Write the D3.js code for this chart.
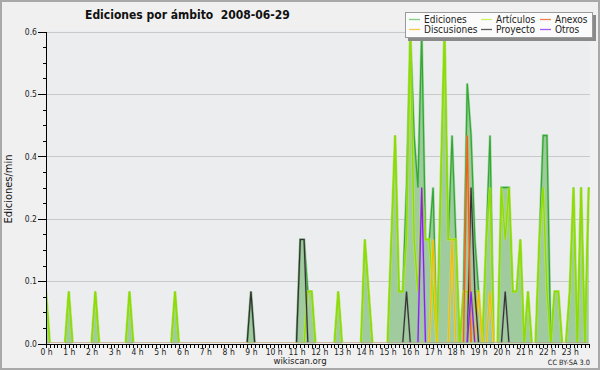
<!DOCTYPE html>
<html><head><meta charset="utf-8">
<script src="https://cdn.jsdelivr.net/npm/d3@7"></script>
<style>body{margin:0;background:#fff}svg{display:block}</style>
</head><body>
<script>
// 10-minute bins, 6 per hour, 144 bins (edits per minute)
const hourLabels = ["0 h","1 h","2 h","3 h","4 h","5 h","6 h","7 h","8 h","9 h","10 h","11 h",
                    "12 h","13 h","14 h","15 h","16 h","17 h","18 h","19 h","20 h","21 h","22 h","23 h"];
const yTickValues = [0, 0.12, 0.24, 0.36, 0.48, 0.6];
const yTickLabels = ["0.0", "0.1", "0.2", "0.4", "0.5", "0.6"];
const legendNames = ["Ediciones", "Discusiones", "Artículos", "Proyecto", "Anexos", "Otros"];

const ediciones = [
 .1,0,0,0,0,0,  .1,0,0,0,0,0,  0,.1,0,0,0,0,  0,0,0,0,.1,0,
 0,0,0,0,0,0,   0,0,0,0,.1,0,  0,0,0,0,0,0,   0,0,0,0,0,0,
 0,0,0,0,0,0,   .1,0,0,0,0,0,  0,0,0,0,0,0,   0,.2,.2,.1,.1,0,
 0,0,0,0,0,.1,  0,0,0,0,0,0,   .2,.1,0,0,0,0, 0,.2,.4,.1,.1,.3,
 .6,.4,.3,.6,.2,.2, .3,0,.3,.6,.2,.4, .2,0,.1,.5,.4,.2, .1,0,.2,.4,0,0,
 .3,.3,.3,.1,.1,.2, 0,.1,0,0,.2,.4,  .4,0,.1,.1,0,0,   .1,.3,0,.3,0,.3
];
const articulos = [
 .1,0,0,0,0,0,  .1,0,0,0,0,0,  0,.1,0,0,0,0,  0,0,0,0,.1,0,
 0,0,0,0,0,0,   0,0,0,0,.1,0,  0,0,0,0,0,0,   0,0,0,0,0,0,
 0,0,0,0,0,0,   0,0,0,0,0,0,   0,0,0,0,0,0,   0,0,0,.1,.1,0,
 0,0,0,0,0,.1,  0,0,0,0,0,0,   .2,.1,0,0,0,0, 0,.2,.4,.1,.1,.2,
 .6,.2,.1,.3,.2,.2, .1,0,.3,.6,.2,.2, .2,0,.1,.1,0,.1, .1,0,.2,.3,0,0,
 .3,.2,.3,.1,.1,.2, 0,.1,0,0,.2,.3,  .1,0,.1,.1,0,0,   .1,.3,0,.3,0,.3
];
const discusiones = [
 0,0,0,0,0,0, 0,0,0,0,0,0, 0,0,0,0,0,0, 0,0,0,0,0,0,
 0,0,0,0,0,0, 0,0,0,0,0,0, 0,0,0,0,0,0, 0,0,0,0,0,0,
 0,0,0,0,0,0, 0,0,0,0,0,0, 0,0,0,0,0,0, 0,0,0,0,0,0,
 0,0,0,0,0,0, 0,0,0,0,0,0, 0,0,0,0,0,0, 0,0,0,0,0,0,
 0,0,0,0,0,0, .2,0,0,0,0,.2, 0,0,0,0,0,0, .1,0,0,.1,0,0,
 0,0,0,0,0,0, 0,0,0,0,0,0, 0,0,0,0,0,0, 0,0,0,0,0,0
];
const proyecto = [
 0,0,0,0,0,0, 0,0,0,0,0,0, 0,0,0,0,0,0, 0,0,0,0,0,0,
 0,0,0,0,0,0, 0,0,0,0,0,0, 0,0,0,0,0,0, 0,0,0,0,0,0,
 0,0,0,0,0,0, .1,0,0,0,0,0, 0,0,0,0,0,0, 0,.2,.2,0,0,0,
 0,0,0,0,0,0, 0,0,0,0,0,0, 0,0,0,0,0,0, 0,0,0,0,0,.1,
 0,0,0,0,0,0, 0,0,0,0,0,0, 0,0,0,0,.3,.1, 0,0,0,0,0,0,
 0,.1,0,0,0,0, 0,0,0,0,0,0, 0,0,0,0,0,0, 0,0,0,0,0,0
];
const anexos = [
 0,0,0,0,0,0, 0,0,0,0,0,0, 0,0,0,0,0,0, 0,0,0,0,0,0,
 0,0,0,0,0,0, 0,0,0,0,0,0, 0,0,0,0,0,0, 0,0,0,0,0,0,
 0,0,0,0,0,0, 0,0,0,0,0,0, 0,0,0,0,0,0, 0,0,0,0,0,0,
 0,0,0,0,0,0, 0,0,0,0,0,0, 0,0,0,0,0,0, 0,0,0,0,0,0,
 0,0,0,0,0,0, 0,0,0,0,0,0, 0,0,0,.4,0,0, 0,0,0,0,0,0,
 0,0,0,0,0,0, 0,0,0,0,0,0, 0,0,0,0,0,0, 0,0,0,0,0,0
];
const otros = [
 0,0,0,0,0,0, 0,0,0,0,0,0, 0,0,0,0,0,0, 0,0,0,0,0,0,
 0,0,0,0,0,0, 0,0,0,0,0,0, 0,0,0,0,0,0, 0,0,0,0,0,0,
 0,0,0,0,0,0, 0,0,0,0,0,0, 0,0,0,0,0,0, 0,0,0,0,0,0,
 0,0,0,0,0,0, 0,0,0,0,0,0, 0,0,0,0,0,0, 0,0,0,0,0,0,
 0,0,0,.3,0,0, 0,0,0,0,0,0, 0,0,0,0,.1,0, 0,0,0,0,0,0,
 0,0,0,0,0,0, 0,0,0,0,0,0, 0,0,0,0,0,0, 0,0,0,0,0,0
];

const W = 600, H = 370;
const FONT = "'DejaVu Sans Condensed','DejaVu Sans',sans-serif";
const svg = d3.select("body").append("svg").attr("width", W).attr("height", H);

svg.append("rect").attr("x", 1).attr("y", 1).attr("width", W - 2).attr("height", H - 2)
  .attr("fill", "#f0f0f0").attr("stroke", "#a9a9a9").attr("stroke-width", 2);

const pL = 46, pR = 589.5, pT = 31.5, pB = 343.5;
const x = d3.scaleLinear().domain([0, 143]).range([46, 588.7]);
const y = d3.scaleLinear().domain([0, 0.6]).range([pB, pT]);

svg.append("rect").attr("x", pL).attr("y", pT - 1).attr("width", pR - pL).attr("height", pB - pT + 1)
  .attr("fill", "#ecedef");

// grid
svg.append("g").selectAll("line").data(yTickValues.slice(1)).join("line")
  .attr("x1", pL).attr("x2", pR)
  .attr("y1", d => Math.round(y(d)) + 0.5).attr("y2", d => Math.round(y(d)) + 0.5)
  .attr("stroke", "#c9c9cb").attr("stroke-width", 1).attr("shape-rendering", "crispEdges");

// clip for lines
svg.append("defs").append("clipPath").attr("id", "clip")
  .append("rect").attr("x", pL).attr("y", 0).attr("width", pR - pL + 2).attr("height", pB - 1.2);

const area = d3.area().x((d, i) => x(i)).y0(y(0)).y1(d => y(d));
const line = d3.line().x((d, i) => x(i)).y(d => y(d));

svg.append("path").datum(ediciones).attr("d", area).attr("fill", "#9fcb9f");

const lines = svg.append("g").attr("clip-path", "url(#clip)");
function drawLine(data, glow, core, gw, cw) {
  lines.append("path").datum(data).attr("d", line).attr("fill", "none")
    .attr("stroke", glow).attr("stroke-width", gw).attr("stroke-linejoin", "miter").attr("stroke-opacity", 0.55);
  lines.append("path").datum(data).attr("d", line).attr("fill", "none")
    .attr("stroke", core).attr("stroke-width", cw).attr("stroke-linejoin", "miter");
}
drawLine(ediciones, "#7cc87c", "#33a833", 2.6, 1.3);
drawLine(articulos, "#c6f24a", "#8fdc00", 2.8, 1.4);
drawLine(discusiones, "#f7dc70", "#f0be00", 2.4, 1.3);
drawLine(proyecto, "#8a8a8a", "#333333", 2.2, 1.2);
drawLine(anexos, "#f59a68", "#f0601a", 2.4, 1.3);
drawLine(otros, "#b98af0", "#8a1ff0", 2.4, 1.3);

// axes
svg.append("g").attr("transform", `translate(${pL},0)`)
  .call(d3.axisLeft(y).tickValues(yTickValues).tickFormat((d, i) => yTickLabels[i]).tickSize(8).tickSizeOuter(0).tickPadding(1));
svg.append("g").attr("transform", `translate(${pL},0)`)
  .call(d3.axisLeft(y).tickValues(d3.range(0, 0.6001, 0.03)).tickFormat("").tickSize(3).tickSizeOuter(0))
  .select(".domain").remove();
svg.append("g").attr("transform", `translate(0,${pB})`)
  .call(d3.axisBottom(x).tickValues(d3.range(0, 144)).tickFormat(d => d % 6 === 0 ? hourLabels[d / 6] : "")
    .tickSize(4).tickSizeOuter(0).tickPadding(1));
svg.selectAll(".domain, .tick line").attr("stroke", "#000").attr("shape-rendering", "crispEdges");
svg.selectAll(".tick text").attr("font-family", FONT).attr("font-size", 8.5).attr("fill", "#222");

// title
svg.append("text").attr("x", 85).attr("y", 18.5).attr("font-family", FONT).attr("font-weight", "bold")
  .attr("font-size", 12).attr("fill", "#111").style("white-space", "pre")
  .text("Ediciones por ámbito  2008-06-29");

// y label
svg.append("text").attr("transform", "translate(11.5,189) rotate(-90)").attr("text-anchor", "middle")
  .attr("font-family", FONT).attr("font-size", 11).attr("fill", "#111").text("Ediciones/min");

// footer
svg.append("text").attr("x", 300).attr("y", 364).attr("text-anchor", "middle").attr("font-family", FONT)
  .attr("font-size", 9.5).attr("fill", "#222").text("wikiscan.org");
svg.append("text").attr("x", 590).attr("y", 365).attr("text-anchor", "end").attr("font-family", FONT)
  .attr("font-size", 7.3).attr("fill", "#222").text("CC BY-SA 3.0");

// legend
const lg = svg.append("g");
lg.append("rect").attr("x", 408).attr("y", 15).attr("width", 188).attr("height", 26).attr("fill", "#8a8a8a");
lg.append("rect").attr("x", 405.5).attr("y", 12.5).attr("width", 187).attr("height", 25)
  .attr("fill", "#fbfbfb").attr("stroke", "#9a9a9a");
const legendColors = ["#82cf82", "#f7c94a", "#c9f263", "#5c5c5c", "#f0804f", "#a458f0"];
const colX = [409, 481, 540], rowY = [19.5, 29.5];
legendNames.forEach((n, i) => {
  const c = Math.floor(i / 2), r = i % 2;
  lg.append("line").attr("x1", colX[c]).attr("x2", colX[c] + 11).attr("y1", rowY[r]).attr("y2", rowY[r])
    .attr("stroke", legendColors[i]).attr("stroke-width", 1.3);
  lg.append("text").attr("x", colX[c] + 15).attr("y", rowY[r] + 3.6).attr("font-family", FONT)
    .attr("font-size", 10).attr("fill", "#222").text(n);
});
</script>
</body></html>
